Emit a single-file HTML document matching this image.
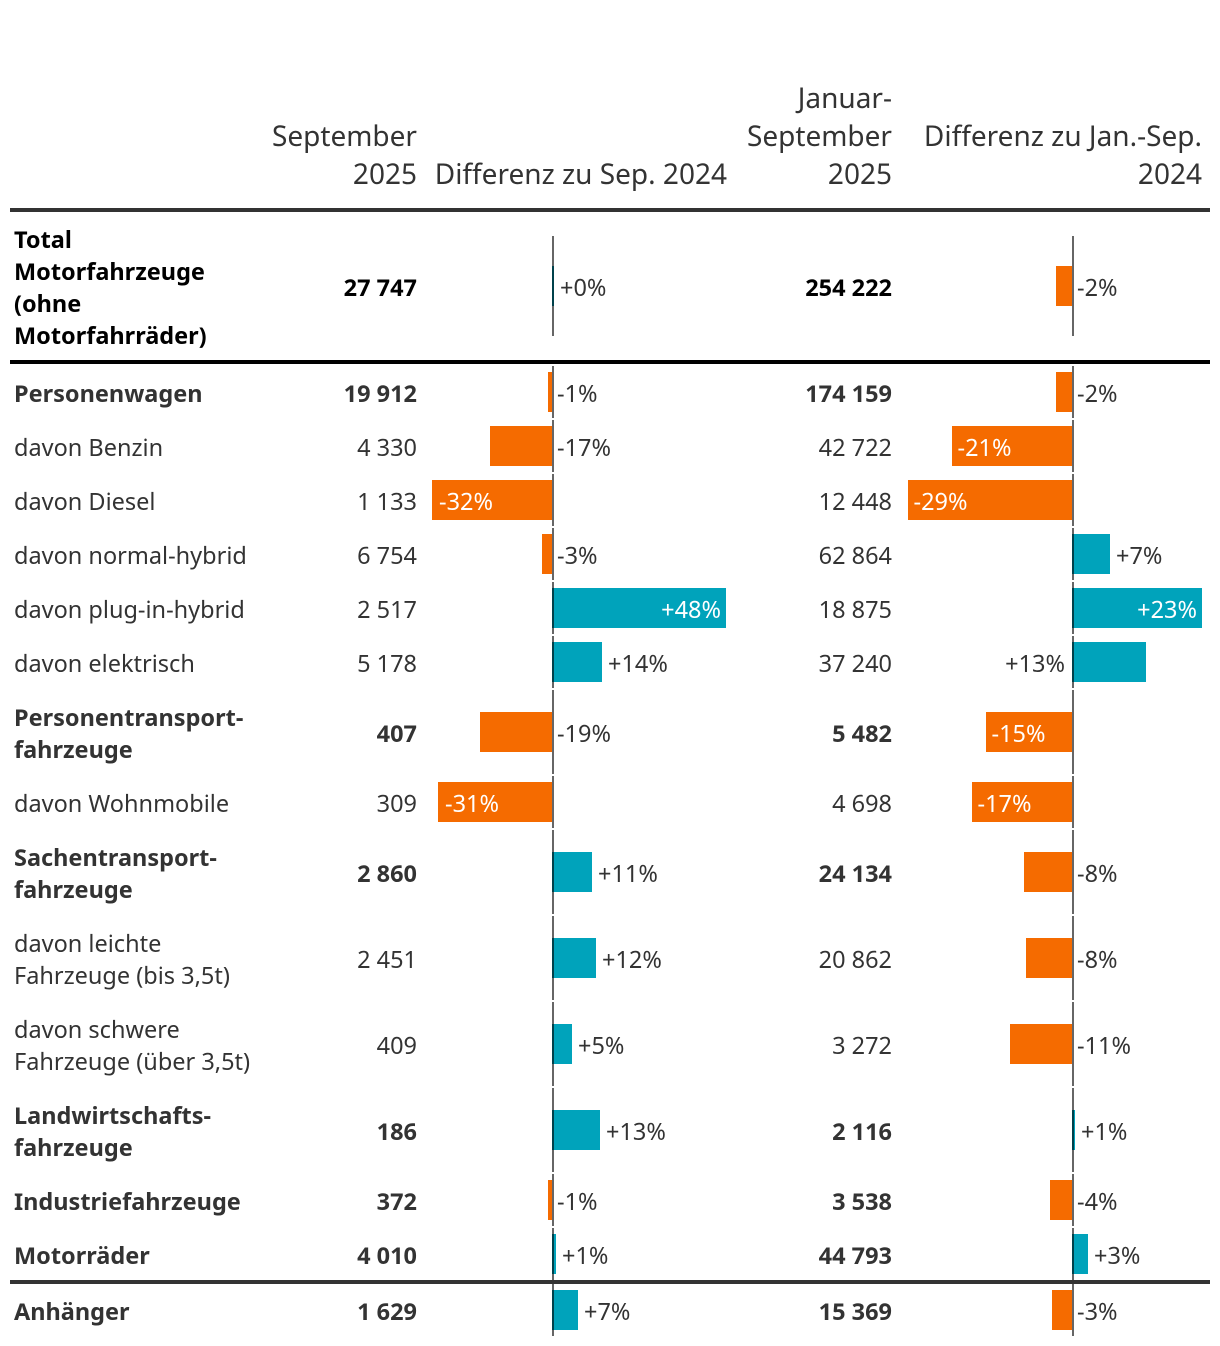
<!DOCTYPE html>
<html lang="de">
<head>
<meta charset="utf-8">
<title>Fahrzeuge September 2025</title>
<style>
html,body{margin:0;padding:0;background:#fff;width:1220px;height:1346px;overflow:hidden}
#stage{position:relative;width:1220px;height:1346px;overflow:hidden}
svg{display:block;position:absolute;left:0;top:0}
.tx{position:absolute;white-space:nowrap;font-family:"Noto Sans","Open Sans","DejaVu Sans","Liberation Sans",sans-serif;color:#333}
.hd{font-size:28px;line-height:38px}
.c{font-size:23.5px;line-height:32px}
.b{font-weight:700}
</style>
</head>
<body>
<div id="stage">
<svg id="chart" width="1220" height="1346" viewBox="0 0 1220 1346" xmlns="http://www.w3.org/2000/svg"></svg>
</div>
<script>
const rowLabels = [
  ['Total','Motorfahrzeuge','(ohne','Motorfahrräder)'],
  ['Personenwagen'],['davon Benzin'],['davon Diesel'],['davon normal-hybrid'],
  ['davon plug-in-hybrid'],['davon elektrisch'],['Personentransport-','fahrzeuge'],
  ['davon Wohnmobile'],['Sachentransport-','fahrzeuge'],['davon leichte','Fahrzeuge (bis 3,5t)'],
  ['davon schwere','Fahrzeuge (über 3,5t)'],['Landwirtschafts-','fahrzeuge'],
  ['Industriefahrzeuge'],['Motorräder'],['Anhänger']
];
const rowBold = [1,1,0,0,0,0,0,1,0,1,0,0,1,1,1,1];
const septemberValues = ['27 747','19 912','4 330','1 133','6 754','2 517','5 178','407','309','2 860','2 451','409','186','372','4 010','1 629'];
const januarySeptemberValues = ['254 222','174 159','42 722','12 448','62 864','18 875','37 240','5 482','4 698','24 134','20 862','3 272','2 116','3 538','44 793','15 369'];
const septemberDiff = [0.1,-0.55,-16.4,-32.3,-2.2,47.67,13.7,-19.2,-30.7,10.96,12.05,5.49,13.15,-0.55,1.1,7.1];
const septemberDiffLabels = ['+0%','-1%','-17%','-32%','-3%','+48%','+14%','-19%','-31%','+11%','+12%','+5%','+13%','-1%','+1%','+7%'];
const yearDiff = [-2.49,-2.49,-21.07,-28.93,6.79,23.2,13.2,-15,-17.49,-8.2,-7.86,-10.7,0.5,-3.57,2.86,-3.2];
const yearDiffLabels = ['-2%','-2%','-21%','-29%','+7%','+23%','+13%','-15%','-17%','-8%','-8%','-11%','+1%','-4%','+3%','-3%'];
const headerSeptember = ['September','2025'];
const headerSepDiff = ['Differenz zu Sep. 2024'];
const headerJanSep = ['Januar-','September','2025'];
const headerYearDiff = ['Differenz zu Jan.-Sep.','2024'];

const NS = 'http://www.w3.org/2000/svg';
const svg = document.getElementById('chart');
const stage = document.getElementById('stage');
const ORANGE = '#f56b00', TEAL = '#00a3bb', AXIS = '#666666', INK = '#333333';

function make(tag, attrs) {
  const el = document.createElementNS(NS, tag);
  for (const k in attrs) el.setAttribute(k, attrs[k]);
  svg.appendChild(el);
  return el;
}
// HTML text placed by baseline; anchor "end" measures from the right edge.
function label(text, x, baseline, anchor, cls, color) {
  const el = document.createElement('div');
  el.className = 'tx ' + cls;
  el.textContent = text;
  const lift = cls.indexOf('hd') >= 0 ? 29 : 25;
  el.style.top = (baseline - lift) + 'px';
  if (anchor === 'end') el.style.right = (1220 - x) + 'px';
  else el.style.left = x + 'px';
  if (color) el.style.color = color;
  stage.appendChild(el);
  return el;
}
const nbsp = s => s.replace(/ /g, '\u00a0');

const col1 = { zero: 552, scale: 3.65, right: 726, inset: 7 };
const col2 = { zero: 1072, scale: 5.6, right: 1202, inset: 5.5 };
const xBar = (col, v) => col.zero + v * col.scale;

// headers
function drawHeader(lines, x, name) {
  lines.forEach((ln, i) => {
    const el = label(ln, x, 184 - (lines.length - 1 - i) * 38, 'end', 'hd');
    
    
  });
}
drawHeader(headerSeptember, 417, 'header-september');
drawHeader(headerSepDiff, 727, 'header-september-difference');
drawHeader(headerJanSep, 892, 'header-january-september');
drawHeader(headerYearDiff, 1202, 'header-year-difference');

// rows
function drawBar(col, v, text, cy, half, rowName, ink) {
  const axis = make('rect', { x: col.zero, y: cy - half, width: 2, height: half * 2, fill: AXIS });
  
  

  const neg = v < 0;
  const w = neg ? -v * col.scale + 2 : Math.max(2, xBar(col, v) - col.zero);
  const x = neg ? col.zero - w : col.zero;
  const bar = make('rect', { x: x, y: cy - 20, width: w, height: 40, fill: neg ? ORANGE : TEAL, 'shape-rendering': 'crispEdges' });
  
  
  svg.insertBefore(bar, axis);
  axis.setAttribute('style', 'mix-blend-mode:multiply');

  let tx, anchor = 'start', fill = ink;
  const barEnd = x + w;
  if (neg) {
    if (w >= 80) { tx = Math.round(x) + col.inset; fill = '#fff'; }
    else { tx = col.zero + 5; }
  } else {
    if (w >= 100) { tx = Math.round(barEnd) - 5; anchor = 'end'; fill = '#fff'; }
    else if (barEnd + 6 + 60 > col.right + 4) { tx = col.zero - 7; anchor = 'end'; }
    else { tx = Math.round(barEnd) + 6; }
  }
  const t = label(text, tx, cy + 10, anchor, 'c', fill);
  
  
}

let rowTop = 366;
rowLabels.forEach((lines, i) => {
  let cy, half;
  if (i === 0) { cy = 286; half = 50; }
  else {
    half = lines.length > 1 ? 42 : 26;
    cy = rowTop + half;
    rowTop += half * 2 + 2;
    if (i === rowLabels.length - 2) rowTop += 2;
  }
  const rowName = 'row-' + lines.join('-').toLowerCase().replace(/[^a-zäöü0-9]+/g, '-').replace(/-+$/, '');
  const ink = i === 0 ? '#000' : INK;
  const cls = 'c' + (rowBold[i] ? ' b' : '');
  lines.forEach((ln, j) => {
    const y = cy + 10 + (j - (lines.length - 1) / 2) * 32;
    const el = label(ln, 14, y, 'start', cls, ink);
    
    
  });
  const v1 = label(nbsp(septemberValues[i]), 417, cy + 10, 'end', cls, ink);
  
  
  const v2 = label(nbsp(januarySeptemberValues[i]), 892, cy + 10, 'end', cls, ink);
  
  
  drawBar(col1, septemberDiff[i], septemberDiffLabels[i], cy, half, rowName + '-september', INK);
  drawBar(col2, yearDiff[i], yearDiffLabels[i], cy, half, rowName + '-year', INK);
});

// rules
const r1 = make('rect', { x: 10, y: 208, width: 1200, height: 4, fill: '#333333' });


const r2 = make('rect', { x: 10, y: 360, width: 1200, height: 4, fill: '#000000' });


const r3 = make('rect', { x: 10, y: 1280, width: 1200, height: 4, fill: '#333333' });


</script>
</body>
</html>
